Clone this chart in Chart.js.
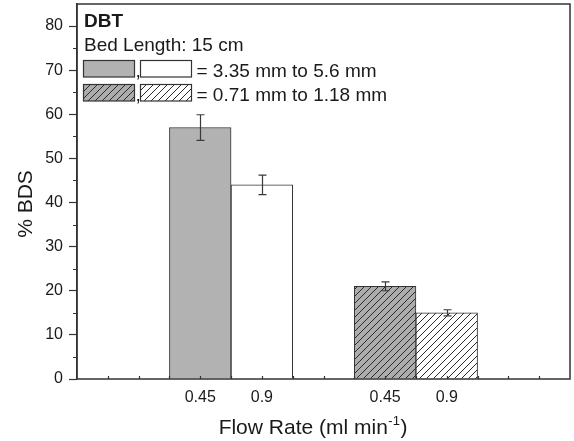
<!DOCTYPE html>
<html><head><meta charset="utf-8">
<script src="https://cdn.jsdelivr.net/npm/chart.js@4"></script>
<style>html,body{margin:0;padding:0;background:#fff}#wrap{width:574px;height:441px}</style>
</head><body><div id="wrap"><canvas id="c" width="574" height="441"></canvas></div>
<script>
// ---- data ----
const slotLabels = ['', '', '0.45', '0.9', '', '0.45', '0.9', '', ''];
const coarseBDS  = [null, null, 57, 44, null, null, null, null, null];
const coarseErr  = [null, null, 2.9, 2.2, null, null, null, null, null];
const fineBDS    = [null, null, null, null, null, 21, 15, null, null];
const fineErr    = [null, null, null, null, null, 1.0, 0.7, null, null];
const seriesNames = ['3.35 mm to 5.6 mm', '0.71 mm to 1.18 mm'];
const panelTitle = 'DBT';
const panelSubtitle = 'Bed Length: 15 cm';
const xTitleMain = 'Flow Rate (ml min';
const xTitleSup = '-1';
const xTitleEnd = ')';
const yTitle = '% BDS';

// ---- styles ----
const FONT = '"Liberation Sans", Arial, Helvetica, sans-serif';
const GRAY = '#b2b2b2';
const HGRAY = '#acacac';
const EDGE = '#333333';
const TXT = '#1a1a1a';

function hatch(bg) {
  const s = 7;
  const c = document.createElement('canvas');
  c.width = s; c.height = s;
  const g = c.getContext('2d');
  g.fillStyle = bg; g.fillRect(0, 0, s, s);
  g.strokeStyle = '#2a2a2a'; g.lineWidth = 1;
  g.beginPath();
  g.moveTo(0, s); g.lineTo(s, 0);
  g.moveTo(-1, 1); g.lineTo(1, -1);
  g.moveTo(s - 1, s + 1); g.lineTo(s + 1, s - 1);
  g.stroke();
  return document.getElementById('c').getContext('2d').createPattern(c, 'repeat');
}
const hatchGray = hatch(HGRAY);
const hatchWhite = hatch('#ffffff');

const errorBars = {
  id: 'errorBars',
  afterDatasetsDraw(chart) {
    const ctx = chart.ctx, y = chart.scales.y;
    ctx.save();
    ctx.strokeStyle = '#3a3a3a'; ctx.lineWidth = 1.2;
    chart.data.datasets.forEach((ds, i) => {
      const meta = chart.getDatasetMeta(i);
      meta.data.forEach((el, j) => {
        const v = ds.data[j], e = ds.errors[j];
        if (v == null || e == null) return;
        const x = Math.round(el.x) + 0.5;
        const t = y.getPixelForValue(v + e), b = y.getPixelForValue(v - e);
        ctx.beginPath();
        ctx.moveTo(x, t); ctx.lineTo(x, b);
        ctx.moveTo(x - 4, t); ctx.lineTo(x + 4, t);
        ctx.moveTo(x - 4, b); ctx.lineTo(x + 4, b);
        ctx.stroke();
      });
    });
    ctx.restore();
  }
};

const decor = {
  id: 'decor',
  afterDraw(chart) {
    const ctx = chart.ctx, a = chart.chartArea, xs = chart.scales.x, ys = chart.scales.y;
    ctx.save();
    // frame
    ctx.strokeStyle = EDGE; ctx.lineWidth = 1.5;
    ctx.strokeRect(a.left, a.top, a.right - a.left, a.bottom - a.top);
    // y minor ticks
    ctx.lineWidth = 1.2;
    ctx.beginPath();
    for (let v = 5; v < 85; v += 10) {
      const p = Math.round(ys.getPixelForValue(v)) + 0.5;
      ctx.moveTo(a.left - 4, p); ctx.lineTo(a.left, p);
    }
    // x small inward ticks
    for (let k = 1; k < (slotLabels.length - 1) * 2; k++) {
      const p = Math.round(xs.getPixelForValue(k / 2)) + 0.5;
      ctx.moveTo(p, a.bottom); ctx.lineTo(p, a.bottom - 3);
    }
    ctx.stroke();

    // in-plot legend
    ctx.fillStyle = TXT;
    ctx.textBaseline = 'alphabetic';
    ctx.textAlign = 'left';
    ctx.font = 'bold 19px ' + FONT;
    ctx.fillText(panelTitle, 84, 26.5);
    ctx.font = '19px ' + FONT;
    ctx.fillText(panelSubtitle, 84, 50.5);
    const rows = [
      {y: 60.5, fills: [GRAY, '#ffffff'], base: 76.5},
      {y: 84.5, fills: [hatchGray, hatchWhite], base: 100.5}
    ];
    rows.forEach((r, i) => {
      ctx.lineWidth = 1.2; ctx.strokeStyle = EDGE;
      [83.5, 140.5].forEach((bx, k) => {
        ctx.fillStyle = r.fills[k];
        ctx.fillRect(bx, r.y, 51, 16.5);
        ctx.strokeRect(bx, r.y, 51, 16.5);
      });
      ctx.fillStyle = TXT;
      ctx.fillText(',', 135.5, r.base);
      ctx.fillText('= ' + seriesNames[i], 196.5, r.base);
    });

    // x title with superscript
    ctx.font = '21px ' + FONT;
    const w1 = ctx.measureText(xTitleMain).width;
    ctx.font = '13px ' + FONT;
    const w2 = ctx.measureText(xTitleSup).width;
    ctx.font = '21px ' + FONT;
    const w3 = ctx.measureText(xTitleEnd).width;
    let x0 = 313 - (w1 + w2 + w3 + 1) / 2;
    const base = 434;
    ctx.fillText(xTitleMain, x0, base);
    ctx.font = '13px ' + FONT;
    ctx.fillText(xTitleSup, x0 + w1 + 0.5, base - 9);
    ctx.font = '21px ' + FONT;
    ctx.fillText(xTitleEnd, x0 + w1 + w2 + 1, base);

    // y title
    ctx.translate(31.5, 204);
    ctx.rotate(-Math.PI / 2);
    ctx.textAlign = 'center';
    ctx.fillText(yTitle, 0, 0);
    ctx.restore();
  }
};

new Chart(document.getElementById('c'), {
  type: 'bar',
  data: {
    labels: slotLabels,
    datasets: [
      {label: seriesNames[0], data: coarseBDS, errors: coarseErr,
       backgroundColor: c => slotLabels[c.dataIndex] === '0.45' ? GRAY : '#ffffff'},
      {label: seriesNames[1], data: fineBDS, errors: fineErr,
       backgroundColor: c => slotLabels[c.dataIndex] === '0.45' ? hatchGray : hatchWhite}
    ]
  },
  options: {
    responsive: false,
    animation: false,
    devicePixelRatio: 1,
    layout: {padding: {top: 4, right: 4, left: 0, bottom: 0}},
    datasets: {bar: {barPercentage: 1, categoryPercentage: 1, grouped: false, skipNull: true,
      borderColor: EDGE, borderWidth: 1}},
    plugins: {legend: {display: false}, tooltip: {enabled: false}},
    scales: {
      x: {
        type: 'category', offset: false,
        grid: {display: false, drawTicks: false},
        border: {display: false},
        ticks: {autoSkip: false, maxRotation: 0, padding: 9, color: TXT, font: {family: FONT, size: 16}},
        afterFit(s) { s.height = 62; s.paddingLeft = 0; s.paddingRight = 0; }
      },
      y: {
        min: 0, max: 85,
        grid: {drawOnChartArea: false, tickLength: 8, tickColor: EDGE, tickWidth: 1.2},
        border: {display: true, color: EDGE, width: 1.5},
        ticks: {stepSize: 10, includeBounds: false, padding: 6, color: TXT, font: {family: FONT, size: 16}},
        afterFit(s) { s.width = 77; s.paddingTop = 0; s.paddingBottom = 0; }
      }
    }
  },
  plugins: [errorBars, decor]
});
</script>
</body></html>
